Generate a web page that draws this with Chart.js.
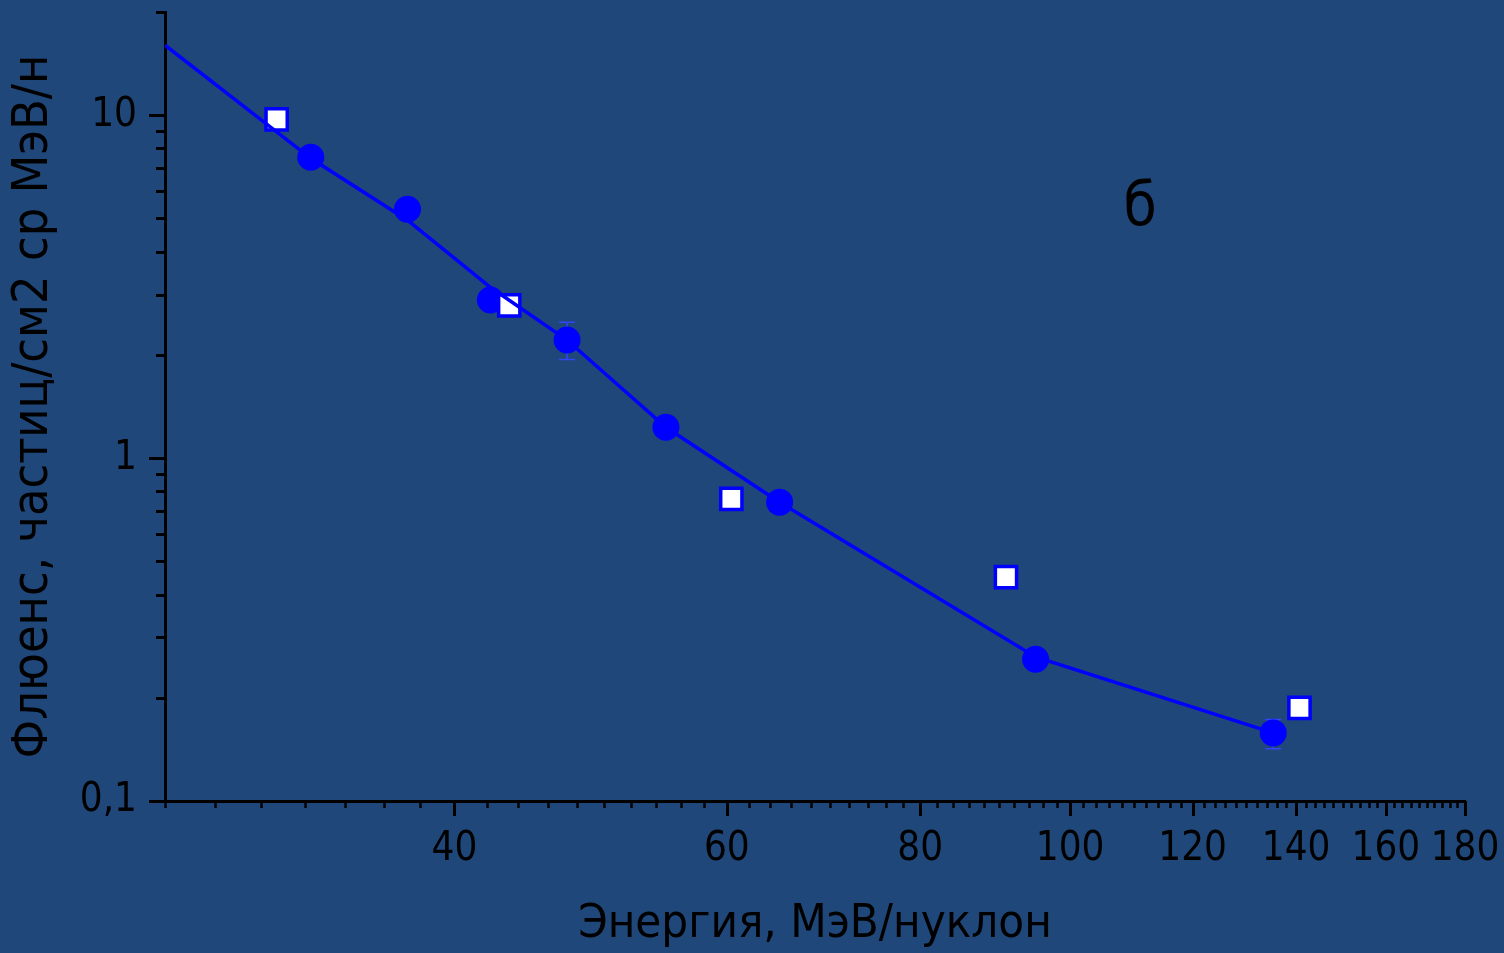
<!DOCTYPE html>
<html lang="ru">
<head>
    <meta charset="UTF-8">
    <title>Флюенс частиц</title>
    <script src="https://cdn.jsdelivr.net/npm/chart.js"></script>
    <style>
        body { margin: 0; padding: 0; background: #1f4779; }
        canvas { display: block; }
    </style>
</head>
<body>
    <canvas id="fluence" width="1504" height="953"></canvas>
    <script>
        // Кружки (с погрешностями там, где они видны)
        const circleE = [32.3, 37.3, 42.2, 47.3, 54.8, 64.9, 95.0, 135.3];
        const circleF = [7.54, 5.32, 2.89, 2.21, 1.23, 0.744, 0.259, 0.158];
        const circleErrLo = [null, null, null, 1.94, null, null, null, 0.142];
        const circleErrHi = [null, null, null, 2.49, null, null, null, 0.173];

        // Квадраты
        const squareE = [30.7, 43.4, 60.4, 90.9, 140.7];
        const squareF = [9.73, 2.79, 0.76, 0.45, 0.187];

        // Линия
        const lineE = [26, 32.3, 37.3, 42.2, 47.3, 54.8, 64.9, 95.0, 135.3];
        const lineF = [16.0, 7.49, 4.94, 3.15, 2.21, 1.23, 0.744, 0.263, 0.158];

        // Подписи осей
        const xLabels = [40, 60, 80, 100, 120, 140, 160, 180];
        const yLabels = [0.1, 1, 10];
        const yLabelText = ['0,1', '1', '10'];
        const yTicks = [0.1, 0.2, 0.3, 0.4, 0.5, 0.6, 0.7, 0.8, 0.9,
                        1, 2, 3, 4, 5, 6, 7, 8, 9, 10, 20];
        const xTicks = [];
        for (let v = 26; v <= 180; v += 2) xTicks.push(v);

        const FONT = "'DejaVu Sans Condensed', 'DejaVu Sans', sans-serif";
        const BLUE = '#0000ff';

        const toPoints = (xs, ys) => xs.map((x, i) => ({ x: x, y: ys[i] }));

        // фон
        const bgPlugin = {
            id: 'bg',
            beforeDraw(chart) {
                const ctx = chart.ctx;
                ctx.save();
                ctx.fillStyle = '#1f4779';
                ctx.fillRect(0, 0, chart.width, chart.height);
                ctx.restore();
            }
        };

        // усы погрешностей под кружками
        const errorBars = {
            id: 'errorBars',
            beforeDatasetsDraw(chart) {
                const { ctx, scales: { x, y } } = chart;
                ctx.save();
                ctx.strokeStyle = '#3344ff';
                ctx.lineWidth = 1.5;
                circleE.forEach((e, i) => {
                    if (circleErrLo[i] == null) return;
                    const px = x.getPixelForValue(e);
                    const top = y.getPixelForValue(circleErrHi[i]);
                    const bot = y.getPixelForValue(circleErrLo[i]);
                    ctx.beginPath();
                    ctx.moveTo(px, top); ctx.lineTo(px, bot);
                    ctx.moveTo(px - 8, top); ctx.lineTo(px + 8, top);
                    ctx.moveTo(px - 8, bot); ctx.lineTo(px + 8, bot);
                    ctx.stroke();
                });
                ctx.restore();
            }
        };

        // засечки: большие у подписанных значений, малые у остальных
        const axisTicks = {
            id: 'axisTicks',
            afterDraw(chart) {
                const { ctx, scales: { x, y }, chartArea: a } = chart;
                ctx.save();
                ctx.strokeStyle = '#000';
                xTicks.forEach(v => {
                    const px = Math.round(x.getPixelForValue(v)) + 0.5;
                    const major = xLabels.includes(v);
                    ctx.lineWidth = major ? 3 : 2.5;
                    ctx.beginPath();
                    ctx.moveTo(px, a.bottom);
                    ctx.lineTo(px, a.bottom + (major ? 15 : 7));
                    ctx.stroke();
                });
                yTicks.forEach(v => {
                    const py = Math.round(y.getPixelForValue(v)) + 0.5;
                    const major = yLabels.includes(v);
                    ctx.lineWidth = 3;
                    ctx.beginPath();
                    ctx.moveTo(a.left, py);
                    ctx.lineTo(a.left - (major ? 16 : 9), py);
                    ctx.stroke();
                });
                // буква панели
                ctx.fillStyle = '#000';
                ctx.font = '60px ' + FONT;
                ctx.textAlign = 'center';
                ctx.textBaseline = 'middle';
                ctx.fillText('б', x.getPixelForValue(111), y.getPixelForValue(5.3));
                ctx.restore();
            }
        };

        const data = {
            datasets: [
                {
                    type: 'line',
                    data: toPoints(lineE, lineF),
                    borderColor: BLUE,
                    borderWidth: 3.5,
                    pointRadius: 0,
                    fill: false,
                    tension: 0,
                    order: 0
                },
                {
                    data: toPoints(squareE, squareF),
                    pointStyle: 'rect',
                    pointRadius: 15,
                    borderWidth: 3.5,
                    borderColor: BLUE,
                    backgroundColor: '#ffffff',
                    order: 1
                },
                {
                    data: toPoints(circleE, circleF),
                    pointStyle: 'circle',
                    pointRadius: 13.5,
                    borderWidth: 0,
                    backgroundColor: BLUE,
                    borderColor: BLUE,
                    order: 2
                }
            ]
        };

        const config = {
            type: 'scatter',
            data,
            plugins: [bgPlugin, errorBars, axisTicks],
            options: {
                responsive: false,
                animation: false,
                layout: { autoPadding: false, padding: { top: 12, right: 39, left: 0, bottom: 0 } },
                plugins: { legend: { display: false }, tooltip: { enabled: false } },
                scales: {
                    x: {
                        type: 'logarithmic',
                        min: 26,
                        max: 180,
                        afterBuildTicks: s => { s.ticks = xTicks.map(v => ({ value: v })); },
                        afterFit: s => { s.height = 152; s.paddingLeft = 0; s.paddingRight = 0; },
                        grid: { display: false, drawTicks: true, tickLength: 15 },
                        border: { display: true, color: '#000', width: 3 },
                        ticks: {
                            autoSkip: false,
                            maxRotation: 0,
                            padding: 10,
                            color: '#000',
                            font: { family: FONT, size: 40 },
                            callback: v => xLabels.includes(v) ? String(v) : ''
                        },
                        title: {
                            display: true,
                            text: 'Энергия, МэВ/нуклон',
                            color: '#000',
                            font: { family: FONT, size: 47, lineHeight: 1.2 },
                            padding: { top: 0, bottom: 0 }
                        }
                    },
                    y: {
                        type: 'logarithmic',
                        min: 0.1,
                        max: 20,
                        afterBuildTicks: s => { s.ticks = yTicks.map(v => ({ value: v })); },
                        afterFit: s => { s.width = 165; s.paddingTop = 0; s.paddingBottom = 0; },
                        grid: { display: false, drawTicks: true, tickLength: 15 },
                        border: { display: true, color: '#000', width: 3 },
                        ticks: {
                            autoSkip: false,
                            padding: 13,
                            color: '#000',
                            font: { family: FONT, size: 40 },
                            callback: v => {
                                const i = yLabels.indexOf(v);
                                return i >= 0 ? yLabelText[i] : '';
                            }
                        },
                        title: {
                            display: true,
                            text: 'Флюенс, частиц/см2 ср МэВ/н',
                            color: '#000',
                            font: { family: FONT, size: 50, lineHeight: 1.2 },
                            padding: { top: 4, bottom: 0 }
                        }
                    }
                }
            }
        };

        new Chart(document.getElementById('fluence').getContext('2d'), config);
    </script>
</body>
</html>
